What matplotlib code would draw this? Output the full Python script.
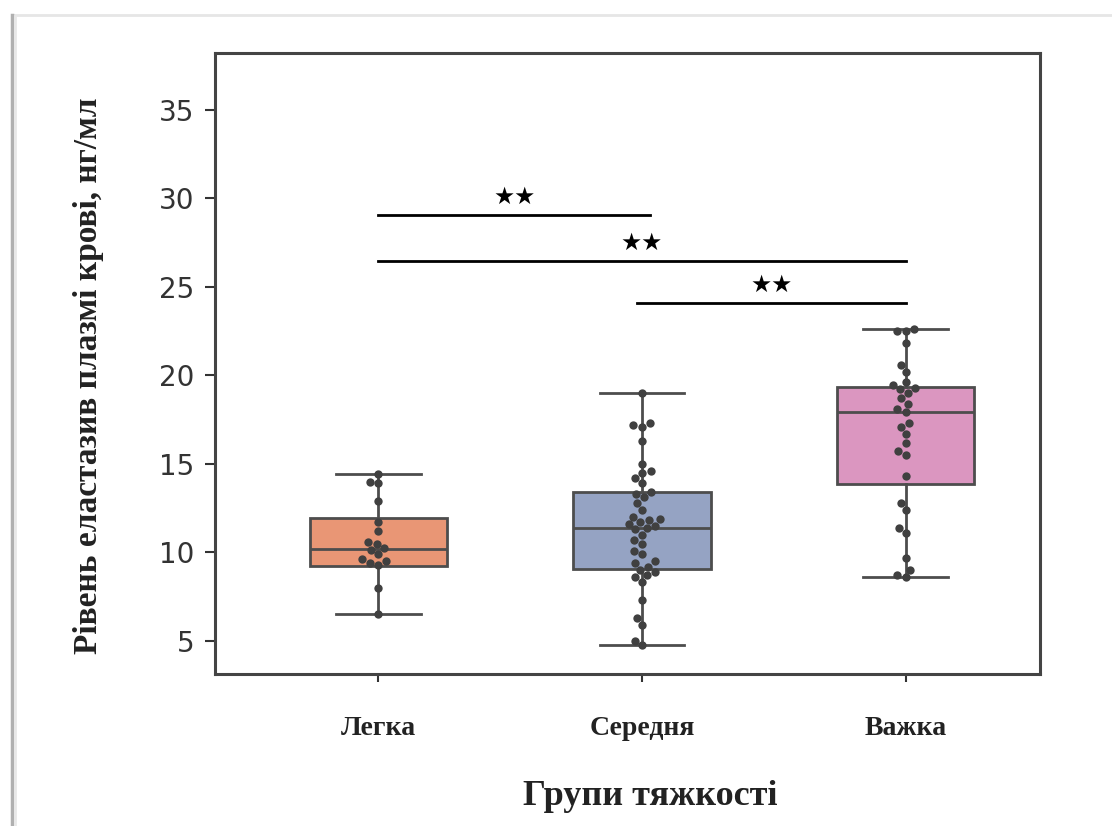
import matplotlib
matplotlib.use("Agg")
import matplotlib.pyplot as plt
from matplotlib.lines import Line2D
import numpy as np
import pandas as pd
import seaborn as sns

groups = ["Легка", "Середня", "Важка"]

# individual patient values, ng/ml
mild = [14.4, 14.0, 13.9, 12.9, 11.7, 11.2, 10.6, 10.5, 10.25, 10.15, 9.9,
        9.6, 9.5, 9.4, 9.3, 8.0, 6.5]
moderate = [19.0, 17.3, 17.2, 17.1, 16.3, 15.0, 14.6, 14.5, 14.2, 13.9, 13.4,
            13.3, 13.1, 12.8, 12.4, 12.0, 11.9, 11.85, 11.7, 11.6, 11.5, 11.4,
            11.3, 11.0, 10.7, 10.5, 10.1, 9.9, 9.5, 9.4, 9.2, 9.0, 8.9, 8.7,
            8.6, 8.3, 7.3, 6.3, 5.9, 5.0, 4.75]
severe = [22.6, 22.5, 22.5, 21.8, 20.6, 20.2, 19.6, 19.45, 19.3, 19.2, 19.0,
          18.7, 18.4, 18.1, 17.95, 17.3, 17.1, 16.7, 16.2, 15.7, 15.5, 14.3,
          12.8, 12.4, 11.4, 11.1, 9.7, 9.0, 8.7, 8.6]

# box summary per group
q1 = [9.24, 9.07, 13.87]
med = [10.2, 11.38, 17.94]
q3 = [11.95, 13.42, 19.35]
whis_lo = [6.5, 4.75, 8.6]
whis_hi = [14.4, 19.0, 22.6]

# significance brackets: (from, to, level)
brackets = [(0, 1.03, 29.07), (0, 2, 26.47), (0.98, 2, 24.1)]
stars = ["★★", "★★", "★★"]

palette = [sns.desaturate(c, 0.75) for c in ["#fc8d62", "#8da0cb", "#e78ac3"]]
line_col = "#4d4d4d"

fig = plt.figure(figsize=(11.12, 8.26), dpi=100)
ax = fig.add_axes([0.1933, 0.184, 0.742, 0.7518])

stats = [dict(label=g, q1=a, med=m, q3=b, whislo=lo, whishi=hi, fliers=[])
         for g, a, m, b, lo, hi in zip(groups, q1, med, q3, whis_lo, whis_hi)]
bp = ax.bxp(stats, positions=[0, 1, 2], widths=0.52, capwidths=0.32,
            patch_artist=True, showfliers=False,
            boxprops=dict(edgecolor=line_col, linewidth=2),
            medianprops=dict(color=line_col, linewidth=2),
            whiskerprops=dict(color=line_col, linewidth=2),
            capprops=dict(color=line_col, linewidth=2))
for patch, c in zip(bp["boxes"], palette):
    patch.set_facecolor(c)

df = pd.DataFrame({
    "group": [groups[0]] * len(mild) + [groups[1]] * len(moderate) + [groups[2]] * len(severe),
    "value": mild + moderate + severe,
})
sns.swarmplot(data=df, x="group", y="value", order=groups, color=".25",
              size=6, ax=ax, zorder=3)

for (x0, x1, y), s in zip(brackets, stars):
    ax.plot([x0, x1], [y, y], color="black", linewidth=2)
    ax.text((x0 + x1) / 2, y + 0.35, s, ha="center", va="bottom",
            fontsize=17, color="black", family="DejaVu Sans")

ax.set_xlim(-0.62, 2.51)
ax.set_ylim(3.13, 38.2)
ax.set_xticks([0, 1, 2])
ax.set_xticklabels(groups, family="Liberation Serif", fontweight="bold",
                   fontsize=20, color="#222222")
ax.set_yticks([5, 10, 15, 20, 25, 30, 35])
ax.tick_params(axis="y", labelsize=20, labelcolor="#333333", length=7,
               width=1.5, color="#333333", pad=8)
ax.tick_params(axis="x", length=6, width=1.5, color="#333333", pad=24)

ax.set_xlabel("Групи тяжкості", family="Liberation Serif", fontweight="bold",
              fontsize=26, color="#222222")
ax.xaxis.set_label_coords(0.527, -0.171)
ax.set_ylabel("Рівень еластазив плазмі крові, нг/мл", family="Liberation Serif",
              fontweight="bold", fontsize=24, color="#222222")
ax.yaxis.set_label_coords(-0.135, 0.48)

for sp in ax.spines.values():
    sp.set_color("#444444")
    sp.set_linewidth(2.2)

# page frame around the picture
fig.add_artist(Line2D([12 / 1112, 1], [1 - 15 / 826, 1 - 15 / 826],
                      transform=fig.transFigure, color="#e6e6e6", linewidth=2))
fig.add_artist(Line2D([12 / 1112, 12 / 1112], [0, 1 - 15 / 826],
                      transform=fig.transFigure, color="#b0b0b0", linewidth=2.5))
fig.add_artist(Line2D([15 / 1112, 15 / 1112], [0, 1 - 16 / 826],
                      transform=fig.transFigure, color="#e8e8e8", linewidth=2))

fig.savefig("out.png", dpi=100)
